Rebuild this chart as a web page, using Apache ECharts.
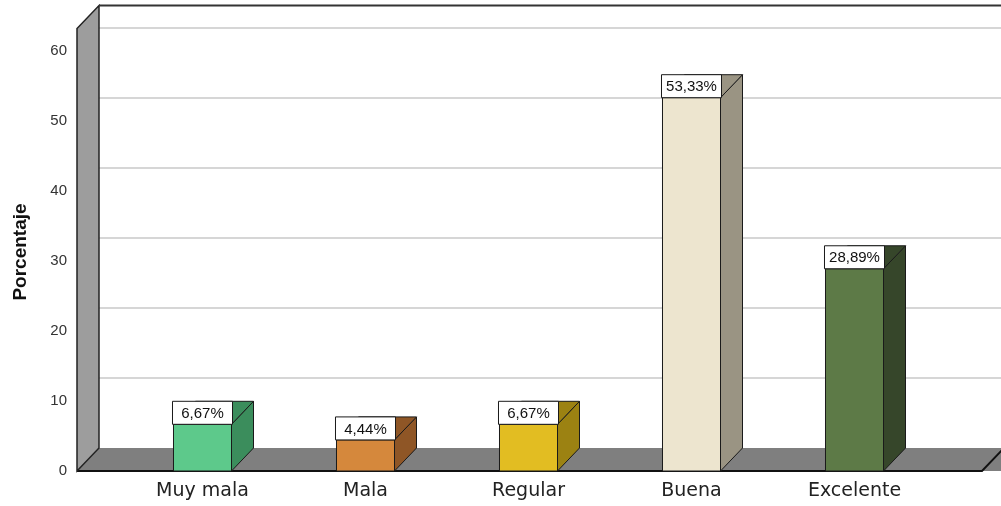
<!DOCTYPE html>
<html>
<head>
<meta charset="utf-8">
<script src="https://cdn.jsdelivr.net/npm/echarts@6/dist/echarts.min.js"></script>
<style>
  html, body { margin: 0; padding: 0; background: #fff; }
  #chart { width: 1001px; height: 506px; }
</style>
</head>
<body>
<div id="chart"></div>
<script>
// Rating categories and the percentage of answers in each
const categories = ['Muy mala', 'Mala', 'Regular', 'Buena', 'Excelente'];
const percentages = [6.67, 4.44, 6.67, 53.33, 28.89];
const yTicks = [0, 10, 20, 30, 40, 50, 60];

// Face colours of each box: front and the shaded side/top
const frontColors = ['#5dc98b', '#d5883c', '#e2bd22', '#ede5cf', '#5d7a47'];
const sideColors = ['#3b8d5c', '#8f5626', '#9c8212', '#9a9483', '#36462a'];

// Depth offset used for the pseudo-3D boxes, walls and floor
const DX = 22, DY = -23;
const WALL_TOP = 63.2;   // value level reached by the top of the walls
const BAR_RATIO = 0.356; // bar width as a share of the category band

function fmt(v) {
  return v.toFixed(2).replace('.', ',') + '%';
}

const chart = echarts.init(document.getElementById('chart'));

// Walls, floor and back-wall gridlines, placed through the axis scales
function renderFrame(params, api) {
  const band = api.size([1, 0])[0];
  const first = api.coord([0, 0]);
  const last = api.coord([categories.length - 1, 0]);
  const xL = first[0] - band / 2 - 44;
  const xR = last[0] + band / 2 + 46;
  const y0 = first[1];
  const yTop = api.coord([0, WALL_TOP])[1];
  const W = api.getWidth();
  const children = [];

  children.push({
    type: 'rect',
    shape: { x: xL + DX, y: yTop + DY, width: W, height: y0 - yTop },
    style: { fill: '#ffffff' }
  });
  yTicks.forEach(function (t) {
    if (t === 0) return;
    const y = api.coord([0, t])[1] + DY;
    children.push({
      type: 'line',
      shape: { x1: xL + DX, y1: y, x2: W, y2: y },
      style: { stroke: '#c8c8c8', lineWidth: 1.5 }
    });
  });
  children.push({
    type: 'polygon',
    shape: { points: [[xL, y0], [xL + DX, y0 + DY], [W + DX, y0 + DY], [W + DX, y0], [xR, y0]] },
    style: { fill: '#7f7f7f' }
  });
  children.push({
    type: 'polyline',
    shape: { points: [[xL, y0], [xR, y0], [xR + DX, y0 + DY]] },
    style: { stroke: '#111', lineWidth: 2, fill: null }
  });
  children.push({
    type: 'polygon',
    shape: { points: [[xL, y0], [xL + DX, y0 + DY], [xL + DX, yTop + DY], [xL, yTop]] },
    style: { fill: '#9d9d9d', stroke: '#222', lineWidth: 1.5 }
  });
  children.push({
    type: 'line',
    shape: { x1: xL + DX, y1: yTop + DY, x2: W, y2: yTop + DY },
    style: { stroke: '#333', lineWidth: 2 }
  });
  return { type: 'group', children: children };
}

// One 3D box per category with its value label on the top face
function renderBar(params, api) {
  const i = api.value(0);
  const v = api.value(1);
  const top = api.coord([i, v]);
  const base = api.coord([i, 0]);
  const bw = api.size([1, 0])[0] * BAR_RATIO;
  const xl = top[0] - bw / 2;
  const xr = top[0] + bw / 2;
  const yt = top[1];
  const yb = base[1];
  const edge = '#1a1a1a';
  return {
    type: 'group',
    children: [
      {
        type: 'polygon',
        shape: { points: [[xr, yt], [xr + DX, yt + DY], [xr + DX, yb + DY], [xr, yb]] },
        style: { fill: sideColors[i], stroke: edge, lineWidth: 1 }
      },
      {
        type: 'polygon',
        shape: { points: [[xl, yt], [xr, yt], [xr + DX, yt + DY], [xl + DX, yt + DY]] },
        style: { fill: sideColors[i], stroke: edge, lineWidth: 1 }
      },
      {
        type: 'rect',
        shape: { x: xl, y: yt, width: bw, height: yb - yt },
        style: { fill: frontColors[i], stroke: edge, lineWidth: 1 }
      },
      {
        type: 'rect',
        shape: { x: xl - 1, y: yt + DY, width: bw + 2, height: -DY },
        style: { fill: '#ffffff', stroke: edge, lineWidth: 1 }
      },
      {
        type: 'text',
        x: top[0],
        y: yt + DY / 2 + 1,
        style: {
          text: fmt(v),
          fill: '#111',
          fontSize: 15,
          fontFamily: 'Liberation Sans',
          align: 'center',
          verticalAlign: 'middle'
        }
      }
    ]
  };
}

const option = {
  animation: false,
  grid: { left: 121, right: 65, top: 51, bottom: 35 },
  xAxis: {
    type: 'category',
    data: categories,
    axisLine: { show: false },
    axisTick: { show: false },
    axisLabel: { margin: 11, fontSize: 19, fontFamily: 'DejaVu Sans', color: '#222' }
  },
  yAxis: {
    type: 'value',
    min: 0,
    max: 60,
    interval: 10,
    offset: 44,
    name: 'Porcentaje',
    nameLocation: 'middle',
    nameGap: 47,
    nameTextStyle: {
      fontWeight: 'bold', fontSize: 19, fontFamily: 'Liberation Sans', color: '#111',
      padding: [0, 0, 0, 18]
    },
    axisLine: { show: false },
    axisTick: { show: false },
    splitLine: { show: false },
    axisLabel: { margin: 10, fontSize: 15, fontFamily: 'Liberation Sans', color: '#333' }
  },
  series: [
    {
      type: 'custom',
      data: [[0, 0]],
      silent: true,
      clip: false,
      z: 1,
      renderItem: renderFrame
    },
    {
      type: 'custom',
      data: percentages.map(function (v, i) { return [i, v]; }),
      clip: false,
      z: 2,
      renderItem: renderBar
    }
  ]
};

chart.setOption(option);
</script>
</body>
</html>
